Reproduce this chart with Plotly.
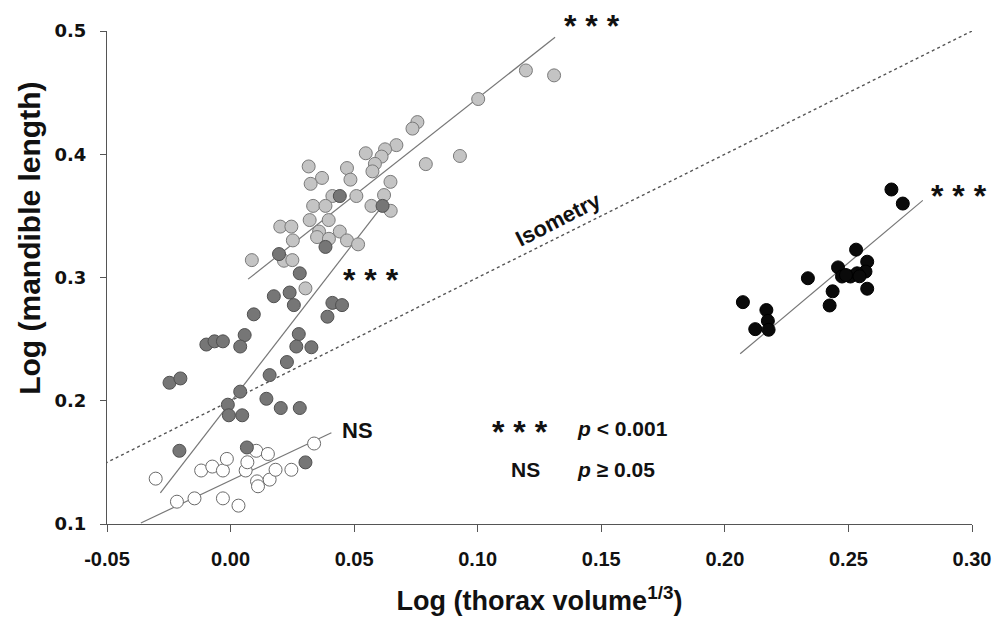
import plotly.graph_objects as go

# ---------------- data ----------------
white_x = [-0.0303, -0.0217, -0.0146, -0.0031, 0.0032, -0.0119, -0.0074, -0.0031, -0.0015,
           0.0061, 0.0068, 0.0104, 0.0151, 0.0107, 0.0111, 0.0158, 0.0182, 0.0246, 0.0338]
white_y = [0.1368, 0.1181, 0.1208, 0.1208, 0.1149, 0.1434, 0.1466, 0.1434, 0.1528,
           0.1434, 0.1501, 0.1594, 0.1568, 0.1346, 0.1306, 0.1360, 0.1440, 0.1440, 0.1653]

light_x = [0.1195, 0.1309, 0.1002, 0.0756, 0.0736, 0.0671, 0.0625, 0.0547, 0.0611, 0.0584,
           0.0574, 0.0928, 0.0790, 0.0316, 0.0471, 0.0485, 0.0370, 0.0324, 0.0647, 0.0412,
           0.0509, 0.0621, 0.0570, 0.0648, 0.0334, 0.0384, 0.0320, 0.0397, 0.0201, 0.0246,
           0.0358, 0.0442, 0.0350, 0.0398, 0.0471, 0.0516, 0.0252, 0.0086, 0.0216, 0.0250,
           0.0303]
light_y = [0.4680, 0.4640, 0.4448, 0.4261, 0.4208, 0.4074, 0.4040, 0.4008, 0.3981, 0.3922,
           0.3861, 0.3986, 0.3920, 0.3901, 0.3888, 0.3794, 0.3808, 0.3760, 0.3776, 0.3661,
           0.3661, 0.3669, 0.3581, 0.3541, 0.3581, 0.3581, 0.3466, 0.3466, 0.3413, 0.3413,
           0.3373, 0.3373, 0.3328, 0.3314, 0.3301, 0.3269, 0.3301, 0.3141, 0.3136, 0.3141,
           0.2912]

dark_x = [0.0615, 0.0384, 0.0196, 0.0280, 0.0175, 0.0239, 0.0256, 0.0412, 0.0451, 0.0392,
          0.0094, -0.0098, -0.0065, -0.0031, 0.0057, 0.0039, 0.0276, 0.0266, 0.0327, 0.0228,
          0.0158, -0.0247, -0.0203, 0.0039, -0.0011, -0.0007, 0.0047, 0.0145, 0.0203, 0.0280,
          -0.0207, 0.0066, 0.0303, 0.0442]
dark_y = [0.3581, 0.3248, 0.3190, 0.3034, 0.2848, 0.2878, 0.2776, 0.2794, 0.2776, 0.2682,
          0.2701, 0.2456, 0.2482, 0.2482, 0.2533, 0.2440, 0.2541, 0.2440, 0.2434, 0.2314,
          0.2208, 0.2146, 0.2181, 0.2074, 0.1968, 0.1882, 0.1882, 0.2016, 0.1941, 0.1941,
          0.1594, 0.1621, 0.1500, 0.3661]

black_x = [0.2674, 0.2720, 0.2531, 0.2458, 0.2576, 0.2569, 0.2474, 0.2508, 0.2535, 0.2490,
           0.2336, 0.2576, 0.2436, 0.2424, 0.2073, 0.2168, 0.2174, 0.2123, 0.2177, 0.2545]
black_y = [0.3714, 0.3600, 0.3226, 0.3082, 0.3128, 0.3048, 0.3008, 0.3008, 0.3034, 0.3020,
           0.2994, 0.2909, 0.2888, 0.2773, 0.2800, 0.2736, 0.2648, 0.2581, 0.2576, 0.3010]

# regression lines (start/end x, start/end y)
fit_white_x = [-0.0363, 0.0408]
fit_white_y = [0.1008, 0.1741]
fit_dark_x = [-0.0284, 0.0615]
fit_dark_y = [0.1253, 0.3584]
fit_light_x = [0.0071, 0.1313]
fit_light_y = [0.2987, 0.4949]
fit_black_x = [0.2062, 0.2801]
fit_black_y = [0.2381, 0.3626]
iso_x = [-0.053, 0.305]
iso_y = [0.147, 0.505]

x_ticks = [-0.05, 0.00, 0.05, 0.10, 0.15, 0.20, 0.25, 0.30]
x_ticklabels = ["-0.05", "0.00", "0.05", "0.10", "0.15", "0.20", "0.25", "0.30"]
y_ticks = [0.1, 0.2, 0.3, 0.4, 0.5]
y_ticklabels = ["0.1", "0.2", "0.3", "0.4", "0.5"]

# ---------------- figure ----------------
fig = go.Figure()
LINE_C = "#777777"
for fx, fy in [(fit_white_x, fit_white_y), (fit_dark_x, fit_dark_y),
               (fit_light_x, fit_light_y), (fit_black_x, fit_black_y)]:
    fig.add_trace(go.Scatter(x=fx, y=fy, mode="lines",
                             line=dict(color=LINE_C, width=1.2), showlegend=False, hoverinfo="skip"))
fig.add_trace(go.Scatter(x=iso_x, y=iso_y, mode="lines",
                         line=dict(color="#555555", width=1.4, dash="3px,3px"),
                         showlegend=False, hoverinfo="skip"))

MS = 13
fig.add_trace(go.Scatter(x=white_x, y=white_y, mode="markers", showlegend=False,
                         marker=dict(size=MS, color="white", line=dict(color="#6a6a6a", width=1))))
fig.add_trace(go.Scatter(x=light_x, y=light_y, mode="markers", showlegend=False,
                         marker=dict(size=MS, color="#c4c4c4", line=dict(color="#7a7a7a", width=1))))
fig.add_trace(go.Scatter(x=dark_x, y=dark_y, mode="markers", showlegend=False,
                         marker=dict(size=MS, color="#767676", line=dict(color="#505050", width=1))))
fig.add_trace(go.Scatter(x=black_x, y=black_y, mode="markers", showlegend=False,
                         marker=dict(size=MS, color="#0a0a0a", line=dict(color="#000000", width=1))))

FONT = "Liberation Sans, Arial, sans-serif"
star_font = dict(family=FONT, size=32, color="#111111", weight="bold")
txt_font = dict(family=FONT, size=21, color="#111111", weight="bold")
ann = [
    dict(x=0.1461, y=0.4990, yshift=6, text="* * *", font=star_font),
    dict(x=0.0567, y=0.2980, text="* * *", font=star_font),
    dict(x=0.2946, y=0.3665, text="* * *", font=star_font),
    dict(x=0.0515, y=0.1755, text="NS", font=dict(family=FONT, size=22, color="#111111", weight="bold")),
    dict(x=0.1171, y=0.1745, text="* * *", font=star_font),
    dict(x=0.1195, y=0.1443, text="NS", font=txt_font),
    dict(x=0.1394, y=0.1778, text="<i>p</i> &lt; 0.001", xanchor="left", font=txt_font),
    dict(x=0.1394, y=0.1443, text="<i>p</i> ≥ 0.05", xanchor="left", font=txt_font),
    dict(x=0.1325, y=0.3474, text="Isometry", textangle=-27,
         font=dict(family=FONT, size=22, color="#111111", weight="bold")),
]
for a in ann:
    a.setdefault("xanchor", "center")
    fig.add_annotation(xref="x", yref="y", showarrow=False, yanchor="middle", **a)

# y-axis title as annotation
fig.add_annotation(xref="paper", yref="y", x=0, xshift=-77, y=0.3314, showarrow=False,
                   text="Log (mandible length)", textangle=-90, xanchor="center", yanchor="middle",
                   font=dict(family=FONT, size=30, color="#111111", weight="bold"))

fig.update_layout(
    width=1006, height=619,
    margin=dict(l=99, r=42, t=16, b=103),
    paper_bgcolor="white", plot_bgcolor="white",
    showlegend=False,
    xaxis=dict(range=[-0.05, 0.30], tickvals=x_ticks, ticktext=x_ticklabels,
               showgrid=False, zeroline=False, showline=True, linecolor="#555555", linewidth=1,
               ticks="outside", ticklen=7, tickcolor="#555555", ticklabelstandoff=10,
               tickfont=dict(family=FONT, size=20, color="#111111", weight="bold"),
               title=dict(text="Log (thorax volume<sup>1/3</sup>)", standoff=22,
                          font=dict(family=FONT, size=27, color="#111111", weight="bold"))),
    yaxis=dict(range=[0.1, 0.5], tickvals=y_ticks, ticktext=y_ticklabels,
               showgrid=False, zeroline=False, showline=True, linecolor="#555555", linewidth=1,
               ticks="outside", ticklen=6, tickcolor="#555555", ticklabelstandoff=10,
               tickfont=dict(family="DejaVu Sans, sans-serif", size=18, color="#111111", weight="bold")),
)

fig.write_html("out.html")
